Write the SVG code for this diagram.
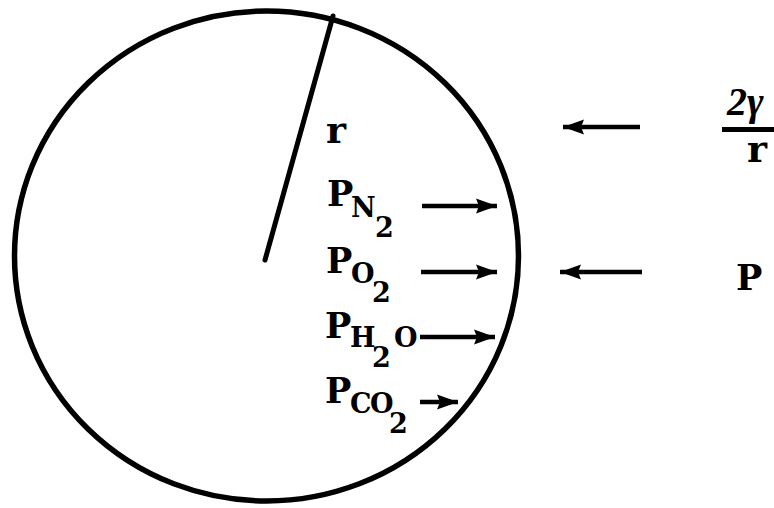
<svg xmlns="http://www.w3.org/2000/svg" width="774" height="508" viewBox="0 0 774 508">
<style>
.t{font-family:"DejaVu Serif","Liberation Serif",serif;font-weight:bold;fill:#000}
.m{font-size:35px}
.s{font-size:27px}
.lr{font-size:38px}
.ln{stroke:#000;stroke-width:4.5;fill:none}
</style>
<defs>
<marker id="ah" markerUnits="userSpaceOnUse" markerWidth="24" markerHeight="18" refX="21" refY="9" orient="auto">
<path d="M0,1.5 L21,9 L0,16.5 L3,9 Z" fill="#000"/>
</marker>
</defs>
<rect width="774" height="508" fill="#fff"/>
<g id="bubble">
<ellipse cx="266.5" cy="256" rx="252" ry="245" fill="none" stroke="#000" stroke-width="5.5"/>
<line x1="333" y1="16" x2="265" y2="260" stroke="#000" stroke-width="5" stroke-linecap="round"/>
</g>
<g id="label-r"><text class="t lr" x="326" y="143">r</text></g>
<g id="label-PN2"><text class="t m" x="327" y="206">P</text><text class="t s" x="351" y="217">N</text><text class="t s" x="375" y="237">2</text></g>
<g id="label-PO2"><text class="t m" x="326" y="273">P</text><text class="t s" x="351" y="283">O</text><text class="t s" x="372" y="302">2</text></g>
<g id="label-PH2O"><text class="t m" x="325" y="338">P</text><text class="t s" x="350" y="347">H</text><text class="t s" x="372" y="367">2</text><text class="t s" x="394" y="347">O</text></g>
<g id="label-PCO2"><text class="t m" x="325" y="403">P</text><text class="t s" x="350" y="413">C</text><text class="t s" x="370" y="413">O</text><text class="t s" x="389" y="433">2</text></g>
<g id="label-P"><text class="t m" x="736" y="290">P</text></g>
<g id="label-surface">
<text x="727" y="115" font-family="Liberation Serif,serif" font-style="italic" font-weight="bold" font-size="40">2γ</text>
<line x1="722" y1="129.5" x2="780" y2="129.5" stroke="#000" stroke-width="5"/>
<text class="t lr" x="747" y="162">r</text>
</g>
<g id="connectors">
<line class="ln" x1="422" y1="206" x2="497" y2="206" marker-end="url(#ah)"/>
<line class="ln" x1="421" y1="272" x2="497" y2="272" marker-end="url(#ah)"/>
<line class="ln" x1="420" y1="337" x2="495" y2="337" marker-end="url(#ah)"/>
<line class="ln" x1="420" y1="402" x2="458" y2="402" marker-end="url(#ah)"/>
<line class="ln" x1="640" y1="127" x2="563" y2="127" marker-end="url(#ah)"/>
<line class="ln" x1="642" y1="272" x2="560" y2="272" marker-end="url(#ah)"/>
</g>
</svg>
